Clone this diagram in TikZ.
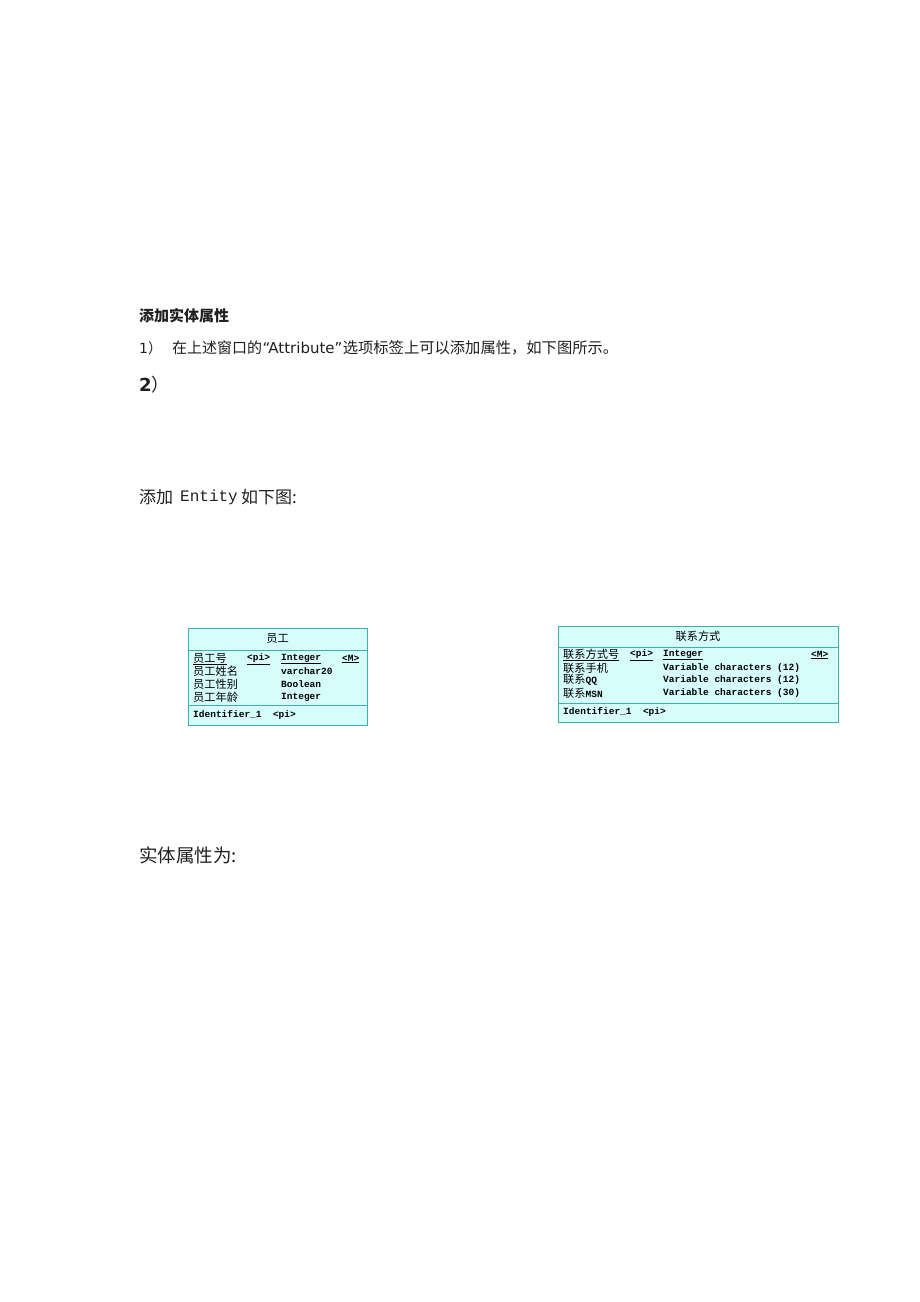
\documentclass[tikz,border=0pt]{standalone}
\usepackage{fontspec}
\setmainfont{DejaVu Sans}
\newfontfamily\cjk{Noto Sans CJK SC}
\newfontfamily\mono{Liberation Mono}
\definecolor{entfill}{HTML}{D6FCFC}
\definecolor{entdraw}{HTML}{3CB0B0}
\definecolor{txt}{HTML}{202020}
\tikzset{
  entbox/.style={draw=entdraw, fill=entfill, line width=1pt},
  entline/.style={draw=entdraw, line width=0.8pt},
  cell/.style={anchor=west, inner sep=0pt, text=black, font=\fontsize{9.5}{10}\mono\bfseries},
  ccell/.style={anchor=west, inner sep=0pt, text=black, font=\fontsize{11.2}{12}\cjk},
  ctitle/.style={anchor=center, inner sep=0pt, text=black, font=\fontsize{11.2}{12}\cjk},
  body/.style={anchor=west, inner sep=0pt, text=txt}
}
\begin{document}
\begin{tikzpicture}[x=1pt,y=-1pt]
\useasboundingbox[fill=white] (0,0) rectangle (920,1302);

% text
\node[body, font=\fontsize{15}{16}\cjk\bfseries] (h1) at (139,316) {添加实体属性};
\node[body, font=\fontsize{14}{16}\selectfont] (n1) at (139,348) {1{\cjk ）}};
\node[body, font=\fontsize{15}{16}\cjk] (l1a) at (172,348) {在上述窗口的};
\node[body, font=\fontsize{15}{16}\selectfont, anchor=west] (l1b) at (l1a.east) {“Attribute”};
\node[body, font=\fontsize{15.3}{16}\cjk, anchor=west] (l1c) at (l1b.east) {选项标签上可以添加属性，如下图所示。};
\node[body, font=\fontsize{18}{20}\selectfont\bfseries] (n2) at (139,385) {2{\cjk\mdseries ）}};

\node[body, font=\fontsize{17}{20}\cjk] (e1) at (139,497) {添加};
\node[body, font=\fontsize{16}{20}\mono] (e2) at (180,497) {Entity};
\node[body, font=\fontsize{17}{20}\cjk] (e3) at (241,497) {如下图:};

\node[body, font=\fontsize{18.5}{20}\cjk] (s1) at (139,855) {实体属性为:};

% Entity 1
\draw[entbox] (188,628) rectangle (367,725);
\draw[entline] (188,650) -- (367,650);
\draw[entline] (188,705) -- (367,705);
\node[ctitle] (t1) at (277.5,639) {员工};
\node[ccell] (a11) at (193,659) {\underline{员工号}};
\node[cell] (a12) at (247,659) {\underline{<pi>}};
\node[cell] (a13) at (281,659) {\underline{Integer}};
\node[cell] (a14) at (342,659) {\underline{<M>}};
\node[ccell] (a21) at (193,671.5) {员工姓名};
\node[cell] (a23) at (281,671.5) {varchar20};
\node[ccell] (a31) at (193,684) {员工性别};
\node[cell] (a33) at (281,684) {Boolean};
\node[ccell] (a41) at (193,697) {员工年龄};
\node[cell] (a43) at (281,697) {Integer};
\node[cell] (id1) at (193,715) {Identifier\_1 \ <pi>};

% Entity 2
\draw[entbox] (558,626) rectangle (838,722);
\draw[entline] (558,647) -- (838,647);
\draw[entline] (558,703) -- (838,703);
\node[ctitle] (t2) at (698,636) {联系方式};
\node[ccell] (b11) at (563,655) {\underline{联系方式号}};
\node[cell] (b12) at (630,655) {\underline{<pi>}};
\node[cell] (b13) at (663,655) {\underline{Integer}};
\node[cell] (b14) at (811,655) {\underline{<M>}};
\node[ccell] (b21) at (563,668) {联系手机};
\node[cell] (b23) at (663,668) {Variable characters (12)};
\node[ccell] (b31) at (563,680) {联系{\mono\bfseries\fontsize{9.5}{10}\selectfont QQ}};
\node[cell] (b33) at (663,680) {Variable characters (12)};
\node[ccell] (b41) at (563,693) {联系{\mono\bfseries\fontsize{9.5}{10}\selectfont MSN}};
\node[cell] (b43) at (663,693) {Variable characters (30)};
\node[cell] (id2) at (563,712) {Identifier\_1 \ <pi>};
\end{tikzpicture}
\end{document}
